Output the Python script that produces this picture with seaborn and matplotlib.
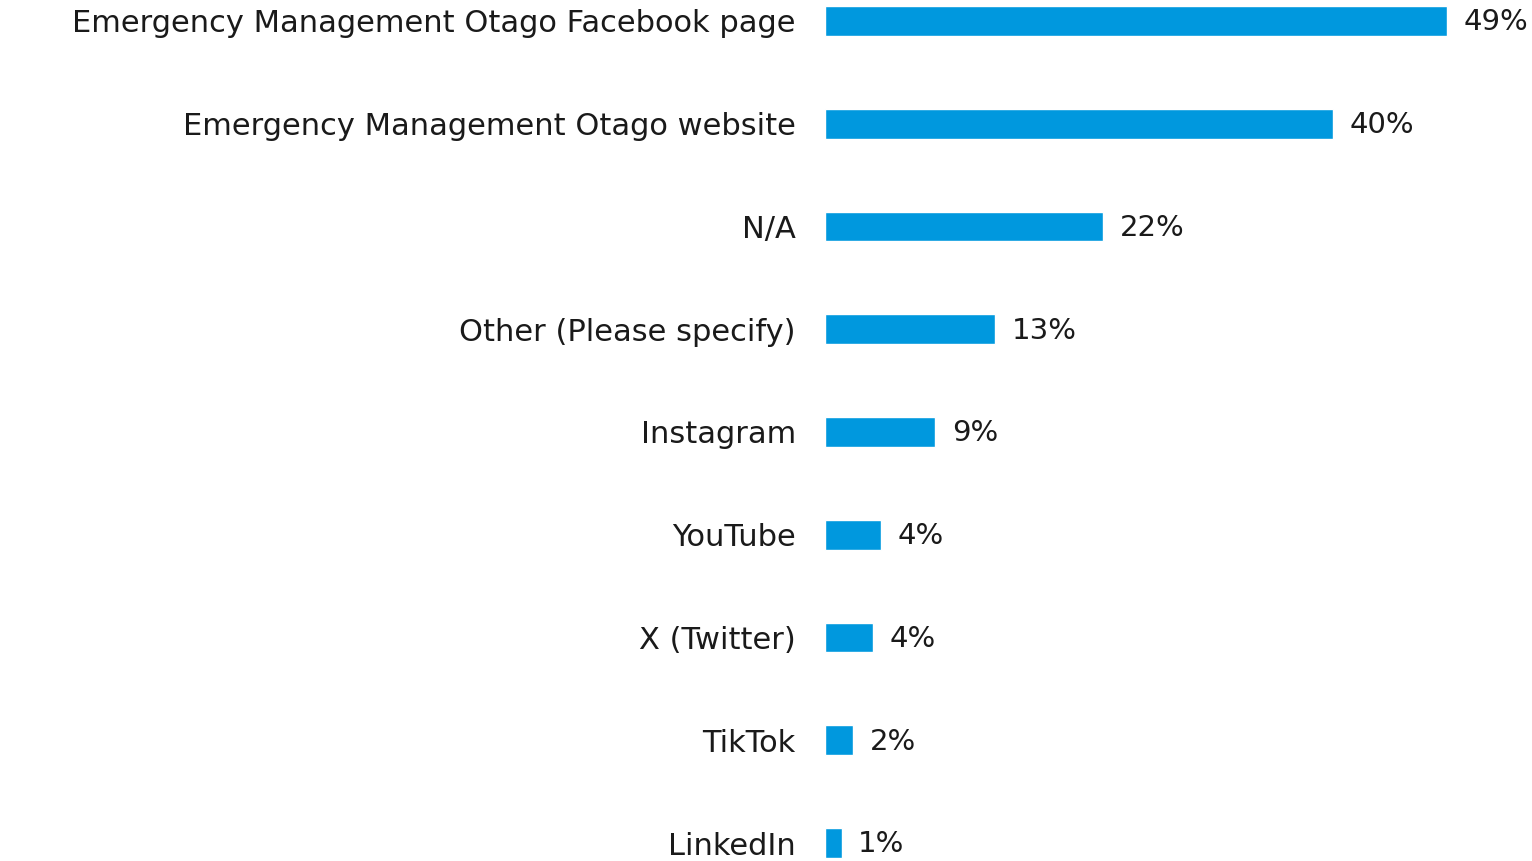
import pandas as pd
import seaborn as sns
import matplotlib.pyplot as plt

categories = [
    'Emergency Management Otago Facebook page',
    'Emergency Management Otago website',
    'N/A',
    'Other (Please specify)',
    'Instagram',
    'YouTube',
    'X (Twitter)',
    'TikTok',
    'LinkedIn',
]
values = [49.0, 40.0, 21.9, 13.4, 8.7, 4.4, 3.8, 2.2, 1.3]
labels = ['49%', '40%', '22%', '13%', '9%', '4%', '4%', '2%', '1%']


def main() -> None:

    sns.set_style('white')
    plt.rcParams['font.family'] = ['DejaVu Sans']

    df = pd.DataFrame({'source': categories, 'pct': values})

    fig = plt.figure(figsize=(15.32, 8.61), dpi=100)
    ax = fig.add_axes([825 / 1532, 0, 707 / 1532, 1])

    sns.barplot(data=df, x='pct', y='source', color='#0098DE',
                width=0.29, saturation=1, ax=ax)

    for i, (v, lab) in enumerate(zip(values, labels)):
        ax.annotate(lab, xy=(v, i), xytext=(12, -1), textcoords='offset points',
                    va='center', ha='left', fontsize=21, color='#1a1a1a')

    ax.set_xlim(0, 55.7)
    ax.set_ylim(8.175, -0.204)
    ax.set_xlabel('')
    ax.set_ylabel('')
    ax.set_xticks([])
    ax.tick_params(axis='y', length=0, pad=21, labelsize=22, labelcolor='#1a1a1a')
    sns.despine(ax=ax, left=True, bottom=True)

    fig.savefig('out.png', dpi=100)


if __name__ == '__main__':
    main()
